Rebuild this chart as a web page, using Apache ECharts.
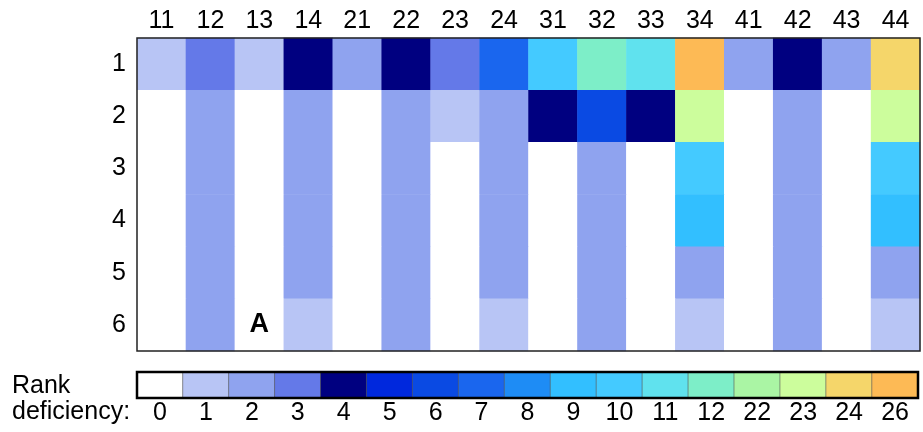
<!DOCTYPE html>
<html lang="en">
<head>
  <meta charset="UTF-8">
  <title>Rank deficiency</title>
  <style>
    html, body { margin: 0; width: 100%; height: 100%; background: #fff; }
    #main { width: 923px; height: 432px; }
  </style>
</head>
<body>
  <div id="main"></div>
  <script src="https://cdn.jsdelivr.net/npm/echarts@6/dist/echarts.min.js"></script>
  <script type="text/javascript">
    // columns (top axis) and rows (left axis)
    const columns = ['11', '12', '13', '14', '21', '22', '23', '24', '31', '32', '33', '34', '41', '42', '43', '44'];
    const rows = ['1', '2', '3', '4', '5', '6'];
    // rank deficiency per row, one value per column
    const row1 = [1, 3, 1, 4, 2, 4, 3, 7, 10, 12, 11, 26, 2, 4, 2, 24];
    const row2 = [0, 2, 0, 2, 0, 2, 1, 2, 4, 6, 4, 23, 0, 2, 0, 23];
    const row3 = [0, 2, 0, 2, 0, 2, 0, 2, 0, 2, 0, 10, 0, 2, 0, 10];
    const row4 = [0, 2, 0, 2, 0, 2, 0, 2, 0, 2, 0, 9, 0, 2, 0, 9];
    const row5 = [0, 2, 0, 2, 0, 2, 0, 2, 0, 2, 0, 2, 0, 2, 0, 2];
    const row6 = [0, 2, 0, 1, 0, 2, 0, 1, 0, 2, 0, 1, 0, 2, 0, 1];
    // colour scale levels
    const levels = [0, 1, 2, 3, 4, 5, 6, 7, 8, 9, 10, 11, 12, 22, 23, 24, 26];
    const levelColors = ['#ffffff', '#b8c5f5', '#8fa3ef', '#6479e8', '#000080', '#0028dd', '#0a4ae3',
      '#1a66ee', '#1e8cf5', '#32bfff', '#44caff', '#60e2ee', '#7deec8', '#aaf5a4', '#ccfd9c', '#f5d66a', '#fdba55'];

    const font = "'Liberation Sans', Arial, sans-serif";

    const allRows = [row1, row2, row3, row4, row5, row6];
    const cells = [];
    allRows.forEach((r, ri) => {
      r.forEach((v, ci) => {
        const item = { value: [ci, ri, v] };
        if (ri === 5 && ci === 2) {
          item.label = { show: true, formatter: 'A', fontSize: 27, fontWeight: 'bold', color: '#000', fontFamily: font };
        }
        cells.push(item);
      });
    });
    const barCells = levels.map((v, i) => [i, 0, v]);

    const option = {
      animation: false,
      backgroundColor: '#fff',
      graphic: [
        { type: 'text', left: 12, top: 374, style: { text: 'Rank', fontSize: 25, fill: '#000', fontFamily: font } },
        { type: 'text', left: 12, top: 400, style: { text: 'deficiency:', fontSize: 25, fill: '#000', fontFamily: font } }
      ],
      grid: [
        { left: 137, top: 38, width: 783, height: 313, show: true, borderColor: '#222', borderWidth: 1.5, z: 5 },
        { left: 137, top: 372, width: 781, height: 26, show: true, borderColor: '#000', borderWidth: 2.5, z: 5 }
      ],
      xAxis: [
        {
          type: 'category', data: columns, position: 'top', gridIndex: 0,
          axisLine: { show: false }, axisTick: { show: false }, splitLine: { show: false },
          axisLabel: { fontSize: 25, color: '#000', margin: 4, fontFamily: font }
        },
        {
          type: 'category', data: levels.map(String), position: 'bottom', gridIndex: 1,
          axisLine: { show: false }, axisTick: { show: false },
          axisLabel: { fontSize: 25, color: '#000', margin: 3, fontFamily: font }
        }
      ],
      yAxis: [
        {
          type: 'category', data: rows, inverse: true, gridIndex: 0,
          axisLine: { show: false }, axisTick: { show: false },
          axisLabel: { fontSize: 25, color: '#000', margin: 11, fontFamily: font }
        },
        {
          type: 'category', data: [''], gridIndex: 1,
          axisLine: { show: false }, axisTick: { show: false }, axisLabel: { show: false }
        }
      ],
      visualMap: {
        type: 'piecewise', show: false, dimension: 2,
        pieces: levels.map((v, i) => ({ value: v, color: levelColors[i] }))
      },
      series: [
        {
          type: 'heatmap', xAxisIndex: 0, yAxisIndex: 0, data: cells,
          itemStyle: { borderWidth: 0 }
        },
        {
          type: 'heatmap', xAxisIndex: 1, yAxisIndex: 1, data: barCells,
          itemStyle: { borderColor: '#555', borderWidth: 0.6 }
        }
      ]
    };

    const myChart = echarts.init(document.getElementById('main'));
    myChart.setOption(option);
  </script>
</body>
</html>
